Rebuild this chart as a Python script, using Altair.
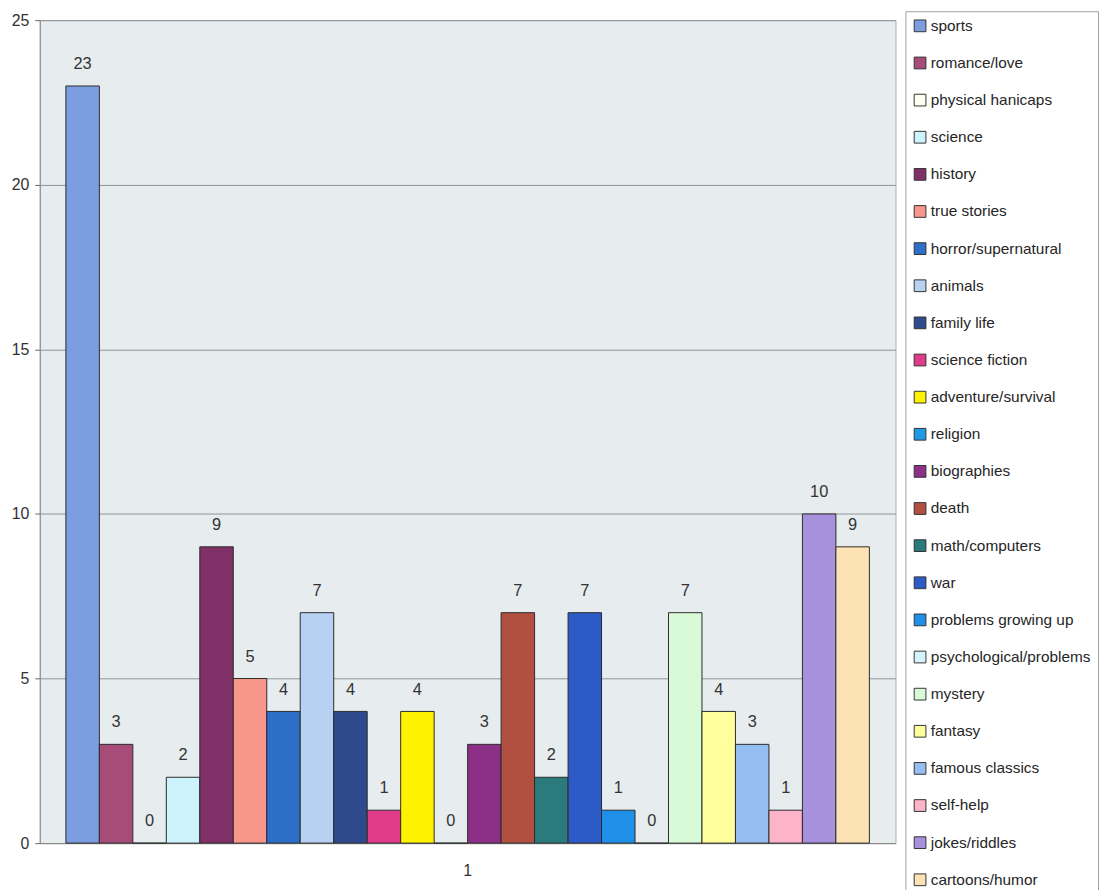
import altair as alt
import pandas as pd

genres = ["sports", "romance/love", "physical hanicaps", "science", "history",
          "true stories", "horror/supernatural", "animals", "family life",
          "science fiction", "adventure/survival", "religion", "biographies",
          "death", "math/computers", "war", "problems growing up",
          "psychological/problems", "mystery", "fantasy", "famous classics",
          "self-help", "jokes/riddles", "cartoons/humor"]
counts = [23, 3, 0, 2, 9, 5, 4, 7, 4, 1, 4, 0, 3, 7, 2, 7, 1, 0, 7, 4, 3, 1, 10, 9]
colors = ["#7c9de0", "#a74c78", "#fffff0", "#cdf3fc", "#7f3066", "#f7978b",
          "#2d6ec9", "#b7d1f3", "#2f4a8c", "#e03a8a", "#fff200", "#1c9ae6",
          "#8c3087", "#b15040", "#2b7b7c", "#2c5ac7", "#1e90e8", "#d5f3fb",
          "#d9fad7", "#fefe9c", "#95bef0", "#fdb4c8", "#a891dc", "#fde2b3"]
group = ["1"] * len(genres)

df = pd.DataFrame({"group": group, "genre": genres, "count": counts})

base = alt.Chart(df).encode(
    x=alt.X("group:N",
            scale=alt.Scale(paddingInner=0, paddingOuter=0.0325),
            axis=alt.Axis(title=None, labelAngle=0, labelFontSize=16,
                          labelFont="Liberation Sans", labelColor="#333333",
                          labelPadding=20, ticks=False, domainColor="#888888")),
    xOffset=alt.XOffset("genre:N", sort=genres,
                        scale=alt.Scale(paddingInner=0, paddingOuter=0)),
    y=alt.Y("count:Q",
            scale=alt.Scale(domain=[0, 25], nice=False),
            axis=alt.Axis(title=None, values=[0, 5, 10, 15, 20, 25],
                          labelFontSize=16, labelFont="Liberation Sans",
                          labelColor="#333333", labelPadding=6, tickSize=5,
                          tickColor="#666666", domainColor="#888888",
                          gridColor="#8e9396", gridWidth=1)),
)

bars = base.mark_bar(stroke="#2b2b2b", strokeWidth=1).encode(
    color=alt.Color("genre:N", sort=genres,
                    scale=alt.Scale(domain=genres, range=colors),
                    legend=alt.Legend(title=None, orient="none", legendX=872,
                                      legendY=-9, symbolType="square",
                                      symbolSize=140, symbolStrokeColor="#333333",
                                      symbolStrokeWidth=1, symbolOpacity=1,
                                      labelFontSize=15.5,
                                      labelFont="Liberation Sans",
                                      labelColor="#262626", labelLimit=400,
                                      labelOffset=3, rowPadding=19.4, padding=7,
                                      strokeColor="#a0a0a0", fillColor="white",
                                      columns=1))
)

labels = base.mark_text(baseline="bottom", dy=-14, fontSize=16.5,
                        font="Liberation Sans", color="#333333").encode(
    text="count:Q")

chart = (bars + labels).properties(
    width=862, height=829,
    padding={"left": 32, "top": 9, "right": 205, "bottom": 44},
    autosize=alt.AutoSizeParams(type="none"),
    background="white",
).configure_view(fill="#e7ecef", stroke="#b0b0b0")

chart.save("out.html", embed_options={"renderer": "svg", "actions": False})
